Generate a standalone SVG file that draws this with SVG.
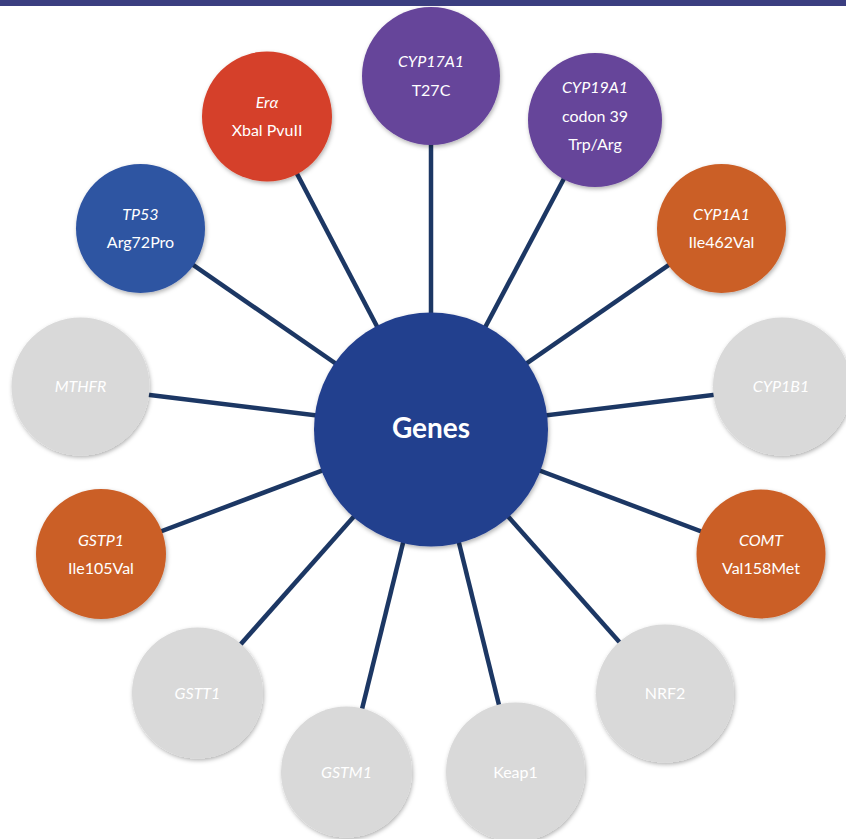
<svg xmlns="http://www.w3.org/2000/svg" width="846" height="839" viewBox="0 0 846 839">
  <style>
    .lnk { stroke: #1c3764; stroke-width: 4.5; fill: none; }
    .n { filter: url(#sh); }
    .gray { fill: #d9d9d9; }
    .orange { fill: #cb5f27; }
    .purple { fill: #66449a; }
    .red { fill: #d5412a; }
    .blue { fill: #2f54a2; }
    .hub { fill: #243f8e; }
    text { font-family: Lato, "Open Sans", "Liberation Sans", sans-serif; fill: #ffffff; text-anchor: middle; font-size: 16px; }
    .it { font-style: italic; }
    .hubt { font-size: 28px; font-weight: bold; }
  </style>
  <defs>
    <filter id="sh" x="-20%" y="-20%" width="140%" height="140%">
      <feDropShadow dx="1" dy="2" stdDeviation="2" flood-color="#000000" flood-opacity="0.3"/>
    </filter>
  </defs>
  <rect x="0" y="0" width="846" height="839" fill="#ffffff"/>
  <rect x="0" y="0" width="846" height="6" fill="#3b3e80"/>
  <g id="connectors">
    <line class="lnk" x1="431" y1="429.5" x2="431" y2="76"/>
    <line class="lnk" x1="431" y1="429.5" x2="267" y2="116.5"/>
    <line class="lnk" x1="431" y1="429.5" x2="595" y2="120"/>
    <line class="lnk" x1="431" y1="429.5" x2="140.5" y2="228.5"/>
    <line class="lnk" x1="431" y1="429.5" x2="721.5" y2="228.5"/>
    <line class="lnk" x1="431" y1="429.5" x2="80.5" y2="386.5"/>
    <line class="lnk" x1="431" y1="429.5" x2="782" y2="386.5"/>
    <line class="lnk" x1="431" y1="429.5" x2="101" y2="554"/>
    <line class="lnk" x1="431" y1="429.5" x2="761" y2="554"/>
    <line class="lnk" x1="431" y1="429.5" x2="197.5" y2="693"/>
    <line class="lnk" x1="431" y1="429.5" x2="665" y2="693.5"/>
    <line class="lnk" x1="431" y1="429.5" x2="346.5" y2="772"/>
    <line class="lnk" x1="431" y1="429.5" x2="515.5" y2="772"/>
  </g>
  <g id="genes">
    <circle class="n hub" cx="431" cy="429.5" r="117"/>
    <text class="hubt" x="431" y="438">Genes</text>
  </g>
  <g id="cyp17a1">
    <circle class="n purple" cx="431" cy="76" r="69"/>
    <text class="it" x="431" y="67">CYP17A1</text>
    <text x="431" y="96">T27C</text>
  </g>
  <g id="era">
    <circle class="n red" cx="267" cy="116.5" r="65"/>
    <text class="it" x="267" y="108">Erα</text>
    <text x="267" y="136">Xbal PvuII</text>
  </g>
  <g id="cyp19a1">
    <circle class="n purple" cx="595" cy="120" r="67"/>
    <text class="it" x="595" y="93">CYP19A1</text>
    <text x="595" y="122">codon 39</text>
    <text x="595" y="150">Trp/Arg</text>
  </g>
  <g id="tp53">
    <circle class="n blue" cx="140.5" cy="228.5" r="64.5"/>
    <text class="it" x="140.5" y="220">TP53</text>
    <text x="140.5" y="248">Arg72Pro</text>
  </g>
  <g id="cyp1a1">
    <circle class="n orange" cx="721.5" cy="228.5" r="64.5"/>
    <text class="it" x="721.5" y="220">CYP1A1</text>
    <text x="721.5" y="248">Ile462Val</text>
  </g>
  <g id="mthfr">
    <circle class="n gray" cx="80.5" cy="386.5" r="69"/>
    <text class="it" x="80.5" y="392">MTHFR</text>
  </g>
  <g id="cyp1b1">
    <circle class="n gray" cx="782" cy="386.5" r="69"/>
    <text class="it" x="781" y="392">CYP1B1</text>
  </g>
  <g id="gstp1">
    <circle class="n orange" cx="101" cy="554" r="65"/>
    <text class="it" x="101" y="546">GSTP1</text>
    <text x="101" y="574">Ile105Val</text>
  </g>
  <g id="comt">
    <circle class="n orange" cx="761" cy="554" r="64.5"/>
    <text class="it" x="761" y="546">COMT</text>
    <text x="761" y="574">Val158Met</text>
  </g>
  <g id="gstt1">
    <circle class="n gray" cx="197.5" cy="693" r="65.5"/>
    <text class="it" x="197.5" y="699">GSTT1</text>
  </g>
  <g id="nrf2">
    <circle class="n gray" cx="665" cy="693.5" r="69"/>
    <text x="665" y="699">NRF2</text>
  </g>
  <g id="gstm1">
    <circle class="n gray" cx="346.5" cy="772" r="65.5"/>
    <text class="it" x="346.5" y="778">GSTM1</text>
  </g>
  <g id="keap1">
    <circle class="n gray" cx="515.5" cy="772" r="69.5"/>
    <text x="515.5" y="778">Keap1</text>
  </g>
</svg>
